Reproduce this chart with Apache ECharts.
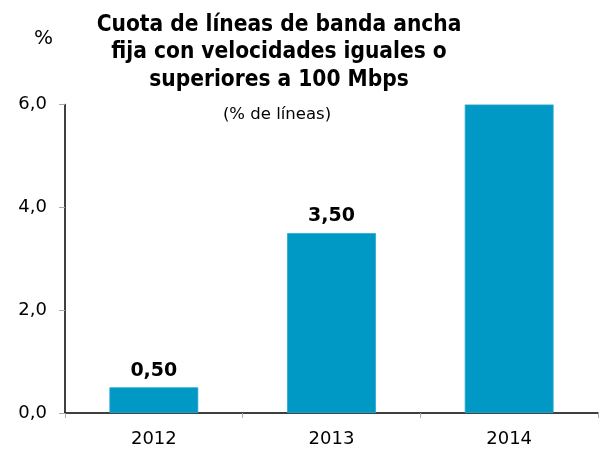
<!DOCTYPE html>
<html>
<head>
<meta charset="utf-8">
<style>
  html, body { margin: 0; padding: 0; background: #fff; }
  #chart { width: 612px; height: 450px; }
</style>
<script src="https://cdn.jsdelivr.net/npm/echarts@6/dist/echarts.min.js"></script>
</head>
<body>
<div id="chart"></div>
<script>
// Share of fixed broadband lines at 100 Mbps or more
const years = ['2012', '2013', '2014'];
const shares = [0.5, 3.5, 6.0];
const labelledYears = ['2012', '2013'];
const yTicks = [0, 2, 4, 6];

const FONT = 'DejaVu Sans, Verdana, sans-serif';
const TITLE_FONT = 'DejaVu Sans Condensed, DejaVu Sans, sans-serif';
const fmt = (v, d) => v.toFixed(d).replace('.', ',');

const chart = echarts.init(document.getElementById('chart'));

chart.setOption({
  animation: false,
  backgroundColor: '#ffffff',
  title: [{
    text: 'Cuota de líneas de banda ancha\nfija con velocidades iguales o\nsuperiores a 100 Mbps',
    left: 274,
    top: 6,
    textAlign: 'center',
    textStyle: { fontFamily: TITLE_FONT, fontWeight: 'bold', fontSize: 22.5, lineHeight: 27.5, color: '#000' }
  }, {
    text: '(% de líneas)',
    left: 272,
    top: 101,
    textAlign: 'center',
    textStyle: { fontFamily: FONT, fontWeight: 'normal', fontSize: 16.5, color: '#000' }
  }, {
    text: '%',
    left: 29,
    top: 24,
    textStyle: { fontFamily: FONT, fontWeight: 'normal', fontSize: 20, color: '#000' }
  }],
  grid: { left: 65, right: 14, top: 104.5, bottom: 37, containLabel: false },
  xAxis: {
    type: 'category',
    data: years,
    axisLine: { lineStyle: { color: '#000', width: 1.5 } },
    axisTick: { show: true, length: 5, lineStyle: { color: '#aaa' } },
    axisLabel: { fontFamily: FONT, fontSize: 18, color: '#000', margin: 17 }
  },
  yAxis: {
    type: 'value',
    min: yTicks[0],
    max: yTicks[yTicks.length - 1],
    interval: yTicks[1] - yTicks[0],
    splitLine: { show: false },
    axisLine: { show: true, lineStyle: { color: '#000', width: 1.5 } },
    axisTick: { show: true, length: 6, lineStyle: { color: '#aaa' } },
    axisLabel: { fontFamily: FONT, fontSize: 18, color: '#000', margin: 18, formatter: v => fmt(v, 1) }
  },
  series: [{
    type: 'bar',
    barWidth: '50%',
    data: years.map((y, i) => ({
      value: shares[i],
      label: { show: labelledYears.includes(y) }
    })),
    itemStyle: { color: '#0099c6', borderColor: '#2aa8cf', borderWidth: 0.8 },
    label: {
      position: 'top',
      distance: 7,
      fontFamily: FONT,
      fontWeight: 'bold',
      fontSize: 19,
      color: '#000',
      formatter: p => fmt(p.value, 2)
    }
  }]
});
</script>
</body>
</html>
